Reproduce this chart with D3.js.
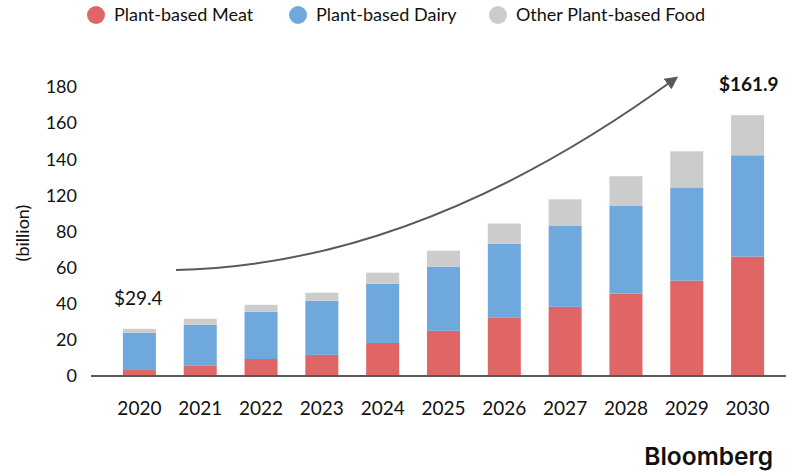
<!DOCTYPE html>
<html>
<head>
<meta charset="utf-8">
<script src="https://cdn.jsdelivr.net/npm/d3@7"></script>
<style>
  body { margin: 0; background: #fff; }
  svg { display: block; font-family: Lato, "Open Sans", sans-serif; }
</style>
</head>
<body>
<svg id="chart" width="788" height="476"></svg>
<script>
const years = ["2020", "2021", "2022", "2023", "2024", "2025", "2026", "2027", "2028", "2029", "2030"];
const meat  = [3.3, 5.6, 9.4, 11.7, 18.3, 25.0, 32.2, 38.3, 45.6, 52.8, 66.1];
const dairy = [20.6, 22.7, 26.2, 30.0, 32.8, 35.6, 41.1, 45.0, 48.8, 51.6, 56.1];
const other = [2.2, 3.4, 3.8, 4.4, 6.1, 8.8, 11.1, 14.5, 16.2, 20.0, 22.2];
const seriesNames = ["Plant-based Meat", "Plant-based Dairy", "Other Plant-based Food"];
const colors = ["#e06666", "#6fa8dc", "#cccccc"];
// tick labels as printed on the original (note: no 100)
const tickValues = [0, 20, 40, 60, 80, 100, 120, 140, 160];
const tickLabels = ["0", "20", "40", "60", "80", "120", "140", "160", "180"];

const svg = d3.select("#chart");

const rows = years.map((y, i) => ({ year: y, meat: meat[i], dairy: dairy[i], other: other[i] }));
const stack = d3.stack().keys(["meat", "dairy", "other"]);
const layers = stack(rows);

const x = d3.scaleBand()
  .domain(years)
  .range([109, 778])
  .paddingInner(0.457)
  .paddingOuter(0.2285);

const y = d3.scaleLinear()
  .domain([0, 160])
  .range([376, 87]);

// bars
svg.selectAll(".layer")
  .data(layers)
  .join("g")
  .attr("class", "layer")
  .attr("fill", (d, i) => colors[i])
  .selectAll("rect")
  .data(d => d)
  .join("rect")
  .attr("x", d => x(d.data.year))
  .attr("width", x.bandwidth())
  .attr("y", d => y(d[1]))
  .attr("height", d => y(d[0]) - y(d[1]));

// y tick labels
svg.append("g")
  .selectAll("text")
  .data(tickValues)
  .join("text")
  .attr("x", 77)
  .attr("y", d => y(d))
  .attr("dy", "0.35em")
  .attr("text-anchor", "end")
  .style("font-size", "18px")
  .style("fill", "#111")
  .text((d, i) => tickLabels[i]);

// x labels
svg.append("g")
  .selectAll("text")
  .data(years)
  .join("text")
  .attr("x", d => x(d) + x.bandwidth() / 2)
  .attr("y", 408)
  .attr("dy", "0.35em")
  .attr("text-anchor", "middle")
  .style("font-size", "19px")
  .style("fill", "#111")
  .text(d => d);

// baseline
svg.append("line")
  .attr("x1", 91).attr("x2", 786)
  .attr("y1", y(0)).attr("y2", y(0))
  .attr("stroke", "#595959")
  .attr("stroke-width", 2);

// axis title
svg.append("text")
  .attr("transform", "translate(23,233) rotate(-90)")
  .attr("text-anchor", "middle")
  .attr("dy", "0.35em")
  .style("font-size", "18px")
  .style("fill", "#111")
  .text("(billion)");

// legend
const legend = svg.append("g");
const legendX = [96, 298, 498];
seriesNames.forEach((name, i) => {
  legend.append("circle")
    .attr("cx", legendX[i]).attr("cy", 15).attr("r", 9)
    .attr("fill", colors[i]);
  legend.append("text")
    .attr("x", legendX[i] + 18).attr("y", 15)
    .attr("dy", "0.35em")
    .style("font-size", "18px")
    .style("fill", "#111")
    .text(name);
});

// growth arrow
svg.append("defs").append("marker")
  .attr("id", "arrow")
  .attr("viewBox", "0 0 10 10")
  .attr("refX", 8).attr("refY", 5)
  .attr("markerWidth", 6.5).attr("markerHeight", 6.5)
  .attr("markerUnits", "strokeWidth")
  .attr("orient", "auto")
  .append("path")
  .attr("d", "M0,0 L10,5 L0,10 Z")
  .attr("fill", "#595959");

svg.append("path")
  .attr("d", "M176,270 Q420,265 676,78")
  .attr("fill", "none")
  .attr("stroke", "#595959")
  .attr("stroke-width", 2)
  .attr("marker-end", "url(#arrow)");

svg.append("text")
  .attr("x", 114).attr("y", 298)
  .attr("dy", "0.35em")
  .style("font-size", "19px")
  .style("fill", "#111")
  .text("$29.4");

svg.append("text")
  .attr("x", 719).attr("y", 84)
  .attr("dy", "0.35em")
  .style("font-size", "19px")
  .style("font-weight", "bold")
  .style("fill", "#111")
  .text("$161.9");

// logo
svg.append("text")
  .attr("x", 773).attr("y", 456)
  .attr("dy", "0.35em")
  .attr("text-anchor", "end")
  .style("font-family", "Inter, 'Liberation Sans', sans-serif")
  .style("font-size", "24.5px")
  .style("font-weight", "600")
  .style("fill", "#111")
  .text("Bloomberg");
</script>
</body>
</html>
